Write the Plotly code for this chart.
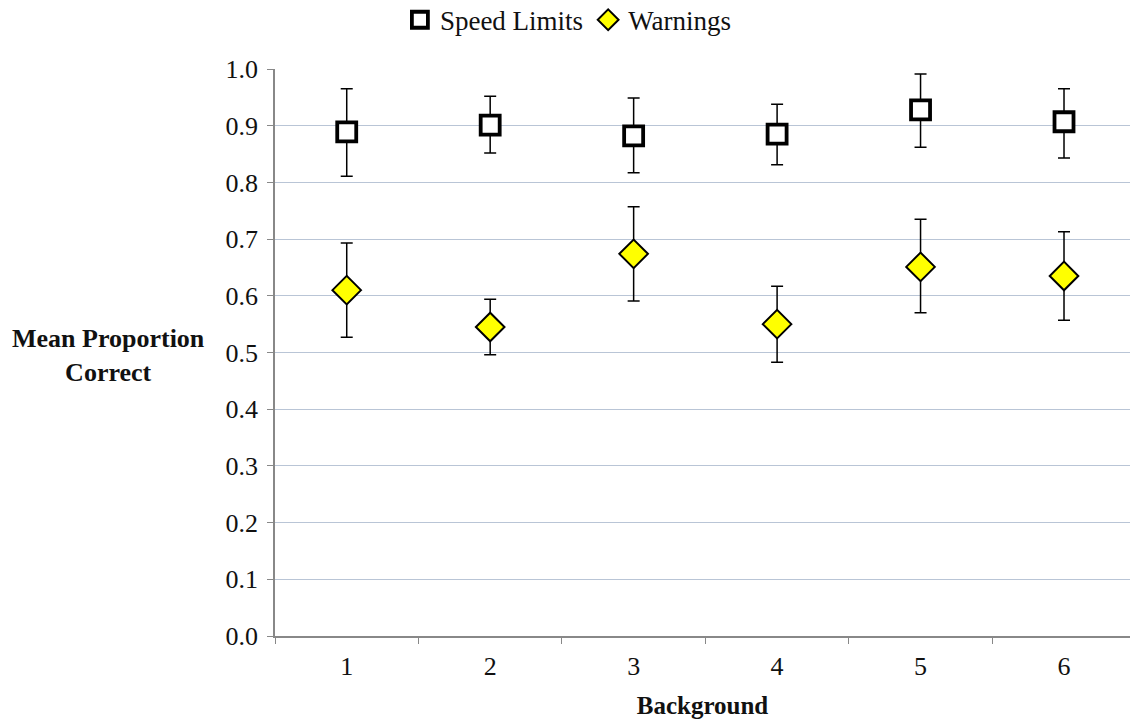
import plotly.graph_objects as go

categories = ["1", "2", "3", "4", "5", "6"]
speed_limits = [0.889, 0.901, 0.882, 0.885, 0.928, 0.907]
speed_err_plus = [0.076, 0.051, 0.067, 0.053, 0.063, 0.058]
speed_err_minus = [0.078, 0.049, 0.065, 0.054, 0.066, 0.064]
warnings = [0.610, 0.545, 0.674, 0.550, 0.651, 0.635]
warn_err_plus = [0.083, 0.049, 0.083, 0.067, 0.084, 0.078]
warn_err_minus = [0.083, 0.049, 0.083, 0.067, 0.081, 0.078]
y_ticks = [0.0, 0.1, 0.2, 0.3, 0.4, 0.5, 0.6, 0.7, 0.8, 0.9, 1.0]

FONT = "Liberation Serif, Times New Roman, serif"

fig = go.Figure()
fig.add_trace(go.Scatter(
    x=categories, y=speed_limits, mode="markers", name="Speed Limits",
    marker=dict(symbol="square", size=19, color="white",
                line=dict(color="black", width=3.8)),
    error_y=dict(type="data", symmetric=False, array=speed_err_plus,
                 arrayminus=speed_err_minus, color="black",
                 thickness=1.5, width=6),
))
fig.add_trace(go.Scatter(
    x=categories, y=warnings, mode="markers", name="Warnings",
    marker=dict(symbol="diamond", size=22, color="#ffff00",
                line=dict(color="black", width=2)),
    error_y=dict(type="data", symmetric=False, array=warn_err_plus,
                 arrayminus=warn_err_minus, color="black",
                 thickness=1.5, width=6),
))

fig.update_layout(
    width=1130, height=722,
    margin=dict(l=275, r=0, t=69, b=86),
    paper_bgcolor="white", plot_bgcolor="white",
    font=dict(family=FONT, size=26, color="#111111"),
    showlegend=True,
    legend=dict(orientation="h", xref="container", yref="container",
                x=0.503, xanchor="center", y=0.972, yanchor="middle",
                font=dict(family=FONT, size=27, color="#111111"),
                itemwidth=30, tracegroupgap=0),
    annotations=[dict(
        text="<b>Mean Proportion<br>Correct</b>", xref="paper", yref="paper",
        x=-0.195, y=0.495, xanchor="center", yanchor="middle",
        showarrow=False, align="center",
        font=dict(family=FONT, size=26, color="#111111"))],
)

fig.update_xaxes(
    type="category", categoryorder="array", categoryarray=categories,
    range=[-0.5, 5.46], tickson="boundaries", ticks="outside", ticklen=6,
    tickcolor="#888888", showline=True, linecolor="#888888", linewidth=1.5,
    showgrid=False, zeroline=False, ticklabelstandoff=6,
    tickfont=dict(family=FONT, size=26, color="#111111"),
    title=dict(text="<b>Background</b>", standoff=17,
               font=dict(family=FONT, size=25, color="#111111")),
)
fig.update_yaxes(
    range=[0, 1.0], tickmode="array", tickvals=y_ticks,
    ticktext=[f"{v:.1f}" for v in y_ticks],
    ticks="outside", ticklen=6, tickcolor="#888888", ticklabelstandoff=4,
    showline=True, linecolor="#888888", linewidth=1.5,
    showgrid=True, gridcolor="#b9c5d6", gridwidth=1.3, zeroline=False,
    tickfont=dict(family=FONT, size=26, color="#111111"),
)

fig.write_html("out.html")
